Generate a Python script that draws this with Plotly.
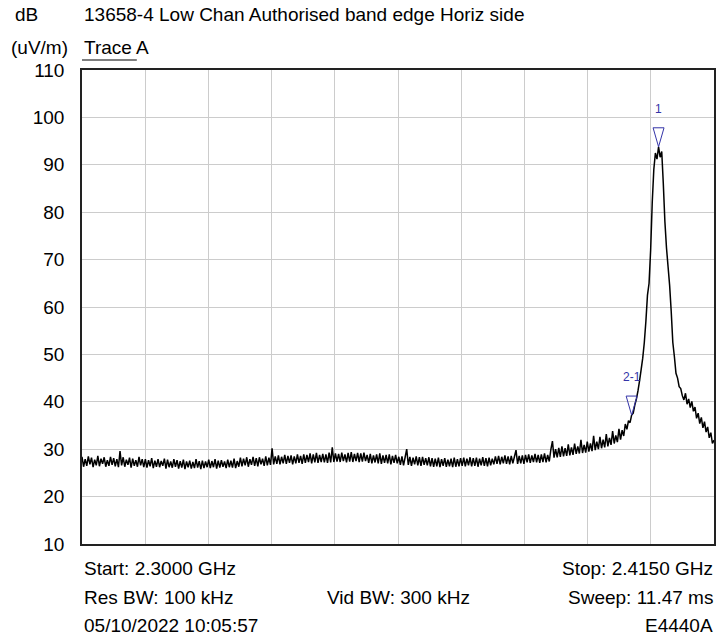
import plotly.graph_objects as go
import numpy as np

# ---------------- data ----------------
START_GHZ = 2.3000
STOP_GHZ = 2.4150

LEVELS_DBUV = [
    # 0-19
    28.4, 26.3, 27.9, 26.5, 28.5, 26.8, 28.2, 26.2, 27.8, 26.6, 28.6, 26.4, 28.0, 26.9, 28.3, 26.3, 27.7, 26.5, 28.4, 26.7,
    # 20-39
    28.1, 26.4, 27.9, 26.2, 29.6, 26.6, 28.3, 26.3, 27.8, 26.7, 28.2, 26.1, 28.0, 26.5, 27.7, 26.3, 28.4, 26.6, 27.9, 26.2,
    # 40-59
    27.9, 26.1, 27.7, 26.4, 28.1, 26.0, 27.6, 26.3, 27.9, 26.2, 27.5, 26.5, 28.0, 25.9, 27.8, 26.2, 27.4, 26.1, 27.9, 26.3,
    # 60-79
    27.7, 25.9, 27.5, 26.1, 27.8, 25.8, 27.4, 26.2, 27.6, 25.9, 27.3, 26.0, 27.9, 26.1, 27.5, 25.8, 27.6, 26.0, 27.4, 26.2,
    # 80-99
    27.8, 26.0, 27.5, 26.2, 27.9, 25.9, 27.6, 26.1, 27.7, 26.3, 27.4, 26.0, 27.8, 26.2, 27.6, 26.1, 28.0, 26.0, 27.5, 26.3,
    # 100-119
    28.2, 26.4, 28.0, 26.6, 28.3, 26.3, 27.9, 26.7, 28.4, 26.5, 28.1, 26.4, 28.3, 26.8, 28.0, 26.5, 28.5, 26.6, 28.2, 26.7,
    # 120-139
    30.2, 26.8, 28.5, 26.9, 28.7, 26.8, 28.4, 27.0, 28.8, 26.9, 28.6, 27.1, 28.7, 26.8, 28.5, 27.0, 28.9, 27.1, 28.6, 26.9,
    # 140-159
    28.9, 27.1, 28.8, 27.3, 29.1, 27.0, 28.9, 27.2, 29.2, 27.1, 28.8, 27.3, 29.0, 27.2, 28.9, 27.1, 29.3, 27.2, 30.4, 27.3,
    # 160-179
    29.1, 27.4, 29.0, 27.3, 29.3, 27.5, 28.9, 27.2, 29.2, 27.4, 29.4, 27.3, 29.0, 27.5, 29.2, 27.3, 29.1, 27.4, 29.3, 27.5,
    # 180-199
    28.8, 27.1, 29.0, 27.0, 28.7, 27.2, 28.9, 27.0, 29.1, 26.9, 28.7, 27.1, 28.8, 27.0, 28.9, 26.8, 28.6, 27.1, 28.8, 27.0,
    # 200-219
    28.4, 26.7, 28.5, 26.6, 28.3, 30.0, 26.7, 28.4, 26.5, 28.2, 26.8, 28.5, 26.6, 28.3, 26.5, 28.4, 26.7, 28.1, 26.6, 28.3,
    # 220-239
    26.4, 28.1, 26.3, 28.0, 26.4, 28.2, 26.2, 27.9, 26.5, 28.1, 26.3, 27.8, 26.4, 28.0, 26.2, 28.2, 26.3, 27.9, 26.4, 28.1,
    # 240-259
    26.5, 28.2, 26.4, 28.0, 26.6, 28.3, 26.4, 28.1, 26.5, 28.2, 26.3, 28.0, 26.6, 28.3, 26.5, 28.1, 26.4, 28.2, 26.6, 28.0,
    # 260-279
    26.8, 28.5, 26.9, 28.6, 26.8, 28.4, 27.0, 28.7, 26.9, 28.5, 26.8, 28.6, 27.0, 28.4, 29.8, 26.9, 28.6, 27.0, 28.7, 26.9,
    # 280-295
    28.8, 27.2, 28.9, 27.1, 28.7, 27.3, 29.0, 27.2, 28.8, 27.1, 28.9, 27.3, 29.1, 27.2, 28.8, 27.4,
    # 296-319
    29.9, 31.7, 28.2, 30.0, 28.3, 30.3, 28.4, 30.6, 28.5, 30.2, 28.6, 31.0, 28.7, 30.4, 28.8, 31.2, 29.0, 30.6, 29.1, 32.0,
    29.2, 30.9, 29.3, 31.6,
    # 320-339
    29.5, 31.2, 29.6, 32.8, 29.8, 31.6, 30.0, 32.6, 30.2, 32.0, 30.4, 33.2, 30.6, 32.4, 30.9, 33.8, 31.2, 32.9, 31.5, 34.3,
    # 340-349
    32.0, 34.0, 32.8, 35.3, 34.2, 36.0, 35.6, 37.2, 37.6, 39.3,
    # 350-362 (rising edge)
    40.6, 42.3, 44.4, 46.8, 49.2, 52.5, 57.0, 62.5, 65.0, 72.0, 82.0, 89.0, 92.5,
    # 363-366 (peak)
    91.2, 93.8, 91.6, 92.8,
    # 367-379 (falling edge)
    86.0, 78.0, 72.5, 68.5, 64.5, 59.0, 52.5, 49.5, 46.0, 45.0, 43.2, 42.8, 41.3,
    # 380-399 (upper tail)
    40.4, 41.8, 39.5, 40.6, 38.8, 40.1, 38.0, 38.9, 36.5, 37.6, 35.4, 36.7, 34.5, 35.8, 33.6, 34.7, 32.4, 33.5, 31.2, 31.9,
]

MARKER_NAMES = ["1", "2-1"]
MARKER_FREQ_GHZ = [2.4049, 2.4000]

Y_TICKS = [10, 20, 30, 40, 50, 60, 70, 80, 90, 100, 110]

TITLE = "13658-4 Low Chan Authorised band edge Horiz side"
Y_UNIT_1 = "dB"
Y_UNIT_2 = "(uV/m)"
TRACE_NAME = "Trace A"
INFO_LEFT = ["Start: 2.3000 GHz", "Res BW: 100 kHz", "05/10/2022 10:05:57"]
INFO_MID = ["", "Vid BW: 300 kHz", ""]
INFO_RIGHT = ["Stop: 2.4150 GHz", "Sweep: 11.47 ms", "E4440A"]

# ---------------- layout geometry ----------------
W, H = 719, 635
L, R, T, B = 82, 3, 70, 91
PW = W - L - R          # plot width px
PH = H - T - B          # plot height px
Y0, Y1 = 10, 110

freqs = np.linspace(START_GHZ, STOP_GHZ, len(LEVELS_DBUV))
levels = np.array(LEVELS_DBUV)

def px(x):   # pixel x -> paper
    return (x - L) / PW

def py(y):   # pixel y -> paper
    return (H - B - y) / PH

ghz_per_px = (STOP_GHZ - START_GHZ) / PW
db_per_px = (Y1 - Y0) / PH

FONT = "Liberation Sans, Arial, sans-serif"
FS = 19
MK_COLOR = "#3434a8"

fig = go.Figure()
fig.add_trace(go.Scatter(x=freqs, y=levels, mode="lines",
                         line=dict(color="black", width=1.5, simplify=False),
                         hoverinfo="skip", showlegend=False))

annotations = []
for name, f in zip(MARKER_NAMES, MARKER_FREQ_GHZ):
    idx = int(np.argmin(np.abs(freqs - f)))
    lvl = levels[idx]
    fx = freqs[idx]
    dx = 5.5 * ghz_per_px
    h = 19 * db_per_px
    fig.add_trace(go.Scatter(x=[fx - dx, fx + dx, fx, fx - dx],
                             y=[lvl + h, lvl + h, lvl, lvl + h],
                             mode="lines", line=dict(color=MK_COLOR, width=1),
                             hoverinfo="skip", showlegend=False))
    annotations.append(dict(x=fx, y=lvl, xref="x", yref="y", text=name,
                            showarrow=False, yshift=38, xanchor="center",
                            yanchor="middle",
                            font=dict(family=FONT, size=12, color=MK_COLOR)))

# header texts
annotations += [
    dict(x=px(13), y=py(15), text=Y_UNIT_1, xanchor="left"),
    dict(x=px(82), y=py(15), text=TITLE, xanchor="left"),
    dict(x=px(9), y=py(47), text=Y_UNIT_2, xanchor="left"),
    dict(x=px(82), y=py(47), text=TRACE_NAME, xanchor="left"),
]
rows_y = [568, 597, 625]
for i, yy in enumerate(rows_y):
    if INFO_LEFT[i]:
        annotations.append(dict(x=px(82), y=py(yy), text=INFO_LEFT[i], xanchor="left"))
    if INFO_MID[i]:
        annotations.append(dict(x=px(400), y=py(yy), text=INFO_MID[i], xanchor="center"))
    if INFO_RIGHT[i]:
        annotations.append(dict(x=px(717), y=py(yy), text=INFO_RIGHT[i], xanchor="right"))

for a in annotations:
    a.setdefault("xref", "paper")
    a.setdefault("yref", "paper")
    a.setdefault("showarrow", False)
    a.setdefault("yanchor", "middle")
    a.setdefault("font", dict(family=FONT, size=FS, color="black"))

fig.update_layout(
    width=W, height=H,
    margin=dict(l=L, r=R, t=T, b=B),
    paper_bgcolor="white", plot_bgcolor="white",
    font=dict(family=FONT, size=FS, color="black"),
    annotations=annotations,
    shapes=[dict(type="line", xref="paper", yref="paper",
                 x0=px(82), x1=px(137), y0=py(60), y1=py(60),
                 line=dict(color="black", width=1))],
    xaxis=dict(range=[START_GHZ, STOP_GHZ], tick0=START_GHZ,
               dtick=(STOP_GHZ - START_GHZ) / 10,
               showticklabels=False, ticks="",
               showgrid=True, gridcolor="#cccccc", gridwidth=1,
               showline=True, linecolor="#222222", linewidth=1.5, mirror=True,
               zeroline=False),
    yaxis=dict(range=[Y0, Y1], tickvals=Y_TICKS, ticks="",
               ticklabelstandoff=12,
               showgrid=True, gridcolor="#cccccc", gridwidth=1,
               showline=True, linecolor="#222222", linewidth=1.5, mirror=True,
               zeroline=False, tickfont=dict(family=FONT, size=FS)),
)

fig.write_html("out.html", config={"displayModeBar": False},
               post_script="document.body.style.margin='0';document.body.style.overflow='hidden';")
